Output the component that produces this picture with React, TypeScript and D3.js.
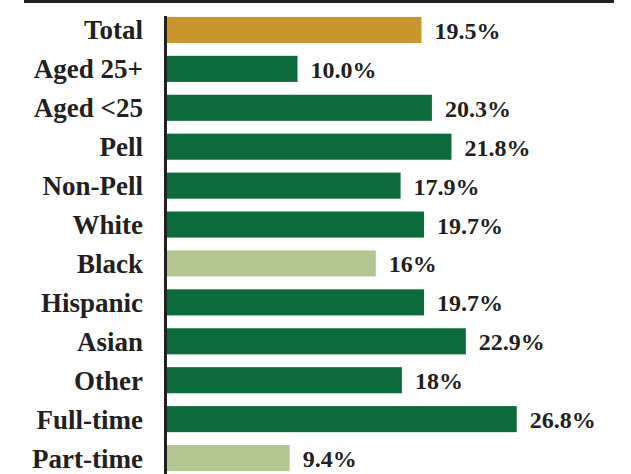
import React from "react";
import * as d3 from "d3";

const categories = [
  "Total",
  "Aged 25+",
  "Aged <25",
  "Pell",
  "Non-Pell",
  "White",
  "Black",
  "Hispanic",
  "Asian",
  "Other",
  "Full-time",
  "Part-time",
];
const values = [19.5, 10.0, 20.3, 21.8, 17.9, 19.7, 16, 19.7, 22.9, 18, 26.8, 9.4];
const valueLabels = ["19.5%", "10.0%", "20.3%", "21.8%", "17.9%", "19.7%", "16%", "19.7%", "22.9%", "18%", "26.8%", "9.4%"];
const groups = ["total", "dark", "dark", "dark", "dark", "dark", "light", "dark", "dark", "dark", "dark", "light"];

const W = 631;
const H = 474;
const FONT = "Liberation Serif, serif";
const TEXT = "#231f20";

export default function App() {
  const axisX = 165.5;

  const x = d3.scaleLinear().domain([0, 30]).range([167, 558.5]);
  const y = d3
    .scaleBand<string>()
    .domain(categories)
    .range([10.5, 477.5])
    .paddingInner(0.33)
    .paddingOuter(0.165);

  const color = d3
    .scaleOrdinal<string, string>()
    .domain(["total", "dark", "light"])
    .range(["#c9962b", "#0b6b3a", "#b1c78f"]);

  return (
    <div style={{ position: "absolute", left: 0, top: 0 }}>
      <svg width={W} height={H} style={{ display: "block", background: "#fff" }}>
        {/* top rule */}
        <rect x={24} y={0} width={590} height={3} fill={TEXT} />

        {categories.map((c, i) => {
          const yy = y(c)!;
          const cy = yy + y.bandwidth() / 2;
          return (
            <g key={c}>
              <rect
                x={x(0)}
                y={yy}
                width={x(values[i]) - x(0)}
                height={y.bandwidth()}
                fill={color(groups[i])}
              />
              <text
                x={143}
                y={cy + 9.5}
                textAnchor="end"
                fontFamily={FONT}
                fontWeight="bold"
                fontSize={27}
                fill={TEXT}
              >
                {c}
              </text>
              <text
                x={x(values[i]) + 13}
                y={cy + 9}
                fontFamily={FONT}
                fontWeight="bold"
                fontSize={24}
                fill={TEXT}
              >
                {valueLabels[i]}
              </text>
            </g>
          );
        })}

        {/* axis line */}
        <line x1={axisX} x2={axisX} y1={16} y2={H} stroke={TEXT} strokeWidth={3} />
      </svg>
    </div>
  );
}
